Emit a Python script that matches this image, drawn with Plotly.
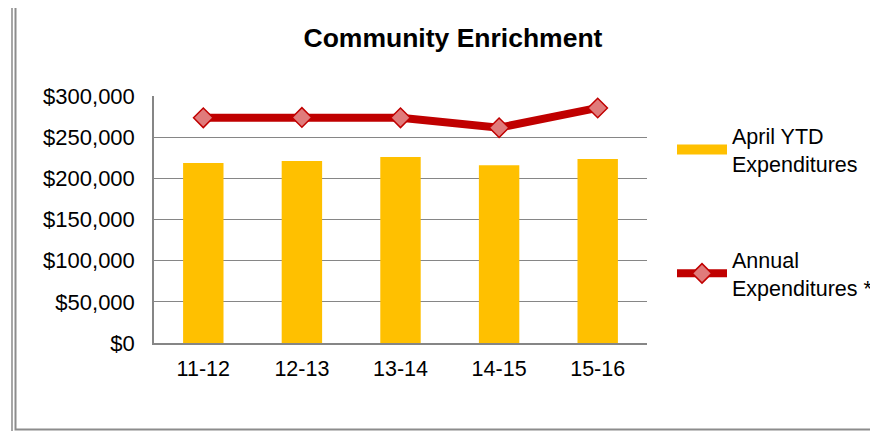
import plotly.graph_objects as go

categories = ["11-12", "12-13", "13-14", "14-15", "15-16"]
april_ytd = [218500, 221000, 226000, 216000, 223500]
annual = [273500, 274000, 273500, 261500, 285500]
y_ticks = [0, 50000, 100000, 150000, 200000, 250000, 300000]
y_tick_labels = ["$0", "$50,000", "$100,000", "$150,000", "$200,000", "$250,000", "$300,000"]

FONT = "Liberation Sans, Arial, sans-serif"
GOLD = "#FFC000"
RED = "#C00000"

fig = go.Figure()
fig.add_trace(go.Bar(
    x=categories, y=april_ytd, name="April YTD<br>Expenditures",
    marker=dict(color=GOLD, line=dict(width=0)),
    width=0.41, showlegend=False,
))
# legend proxy for the bar series (wide gold swatch as in the original)
fig.add_trace(go.Scatter(
    x=[None], y=[None], name="April YTD<br>Expenditures",
    mode="lines", line=dict(color=GOLD, width=11), legendgroup="a",
))
fig.add_trace(go.Scatter(
    x=categories, y=annual, name="Annual<br>Expenditures *",
    mode="lines+markers",
    line=dict(color=RED, width=8),
    marker=dict(symbol="diamond", size=15, color="#E07B7B",
                line=dict(color=RED, width=1.5)),
    legendgroup="b",
))

OFF = 8  # page body margin
W, H = 878 - OFF, 431 - OFF
L, T = 154 - OFF, 96 - OFF
pw, ph = 493, 247
R, B = W - L - pw, H - T - ph

def px_x(p):
    return (p - OFF - L) / pw

def px_y(p):
    return (T + ph - (p - OFF)) / ph

shapes = [
    dict(type="rect", xref="paper", yref="paper",
         x0=px_x(12), x1=px_x(900), y0=px_y(4), y1=px_y(440),
         line=dict(color="#A6A6A6", width=2), fillcolor="rgba(0,0,0,0)", layer="below"),
    dict(type="rect", xref="paper", yref="paper",
         x0=px_x(15.5), x1=px_x(900), y0=px_y(6.5), y1=px_y(429.5),
         line=dict(color="#8C8C8C", width=2), fillcolor="rgba(0,0,0,0)", layer="below"),
]

fig.update_layout(
    width=W, height=H,
    margin=dict(l=L, r=R, t=T, b=B, pad=0, autoexpand=False),
    paper_bgcolor="white", plot_bgcolor="white",
    font=dict(family=FONT, color="black", size=22),
    title=dict(text="<b>Community Enrichment</b>", x=(453 - OFF) / W, xref="container",
               xanchor="center", y=1 - (38 - OFF) / H, yref="container", yanchor="middle",
               font=dict(size=26.5, family=FONT, color="black")),
    showlegend=True,
    legend=dict(x=px_x(672), xanchor="left", y=px_y(115), yanchor="top",
                traceorder="grouped", tracegroupgap=65,
                font=dict(size=21.5, family=FONT, color="black"),
                itemwidth=50, bgcolor="rgba(0,0,0,0)"),
    xaxis=dict(type="category", showgrid=False, showline=True, linecolor="#868686", linewidth=1.5,
               ticks="", tickfont=dict(size=21.5), mirror=False, automargin=False, tickangle=0,
               ticklabelstandoff=5),
    yaxis=dict(range=[0, 300000], tickvals=y_ticks, ticktext=y_tick_labels,
               showgrid=True, gridcolor="#868686", gridwidth=1,
               showline=True, linecolor="#868686", linewidth=1.5,
               ticks="", tickfont=dict(size=22), zeroline=False, automargin=False,
               ticklabelstandoff=13),
    shapes=shapes,
    bargap=0.59,
)

fig.write_html("out.html")
